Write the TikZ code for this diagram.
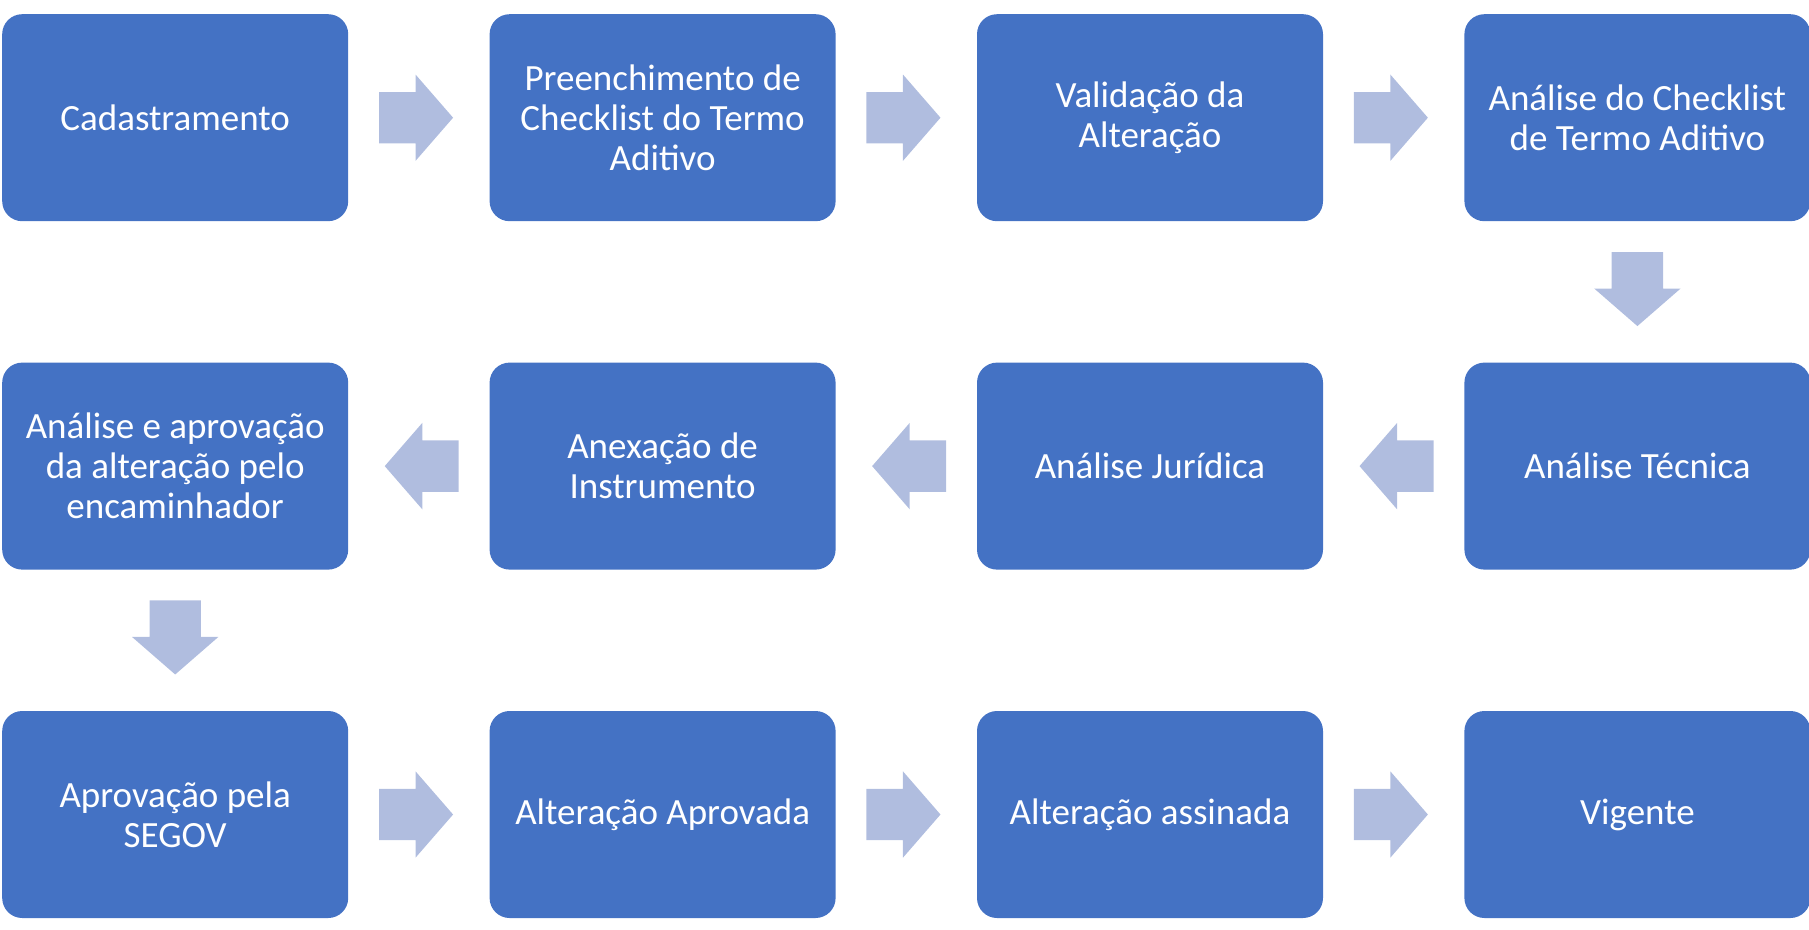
\documentclass[tikz,border=0pt]{standalone}
\usepackage{fontspec}
\setmainfont{Carlito}
\usepackage{xcolor}
\usetikzlibrary{positioning,shapes.arrows,calc}

\definecolor{caixa}{HTML}{4472C4}
\definecolor{setacor}{HTML}{B0BDDF}

\begin{document}
\begin{tikzpicture}[
    node distance=141pt,
    etapa/.style={
        rectangle,
        fill=caixa,
        rounded corners=20pt,
        minimum width=346pt,
        minimum height=207pt,
        inner sep=0pt,
        text=white,
        align=center,
        font=\fontsize{37pt}{40pt}\selectfont
    },
    seta/.style={
        single arrow,
        fill=setacor,
        inner xsep=0pt,
        inner ysep=25.5pt,
        minimum height=74pt,
        single arrow head extend=17.5pt,
        single arrow tip angle=98,
        rotate=#1,
        xshift=-14pt
    },
    seta/.default=0
]

\useasboundingbox (0pt,0pt) rectangle (1809pt,-929pt);

% primeira linha
\node[etapa, anchor=north west] (A) at (2pt,-14pt) {Cadastramento};
\node[etapa] (B) [right=of A] {Preenchimento de\\ Checklist do Termo\\ Aditivo};
\node[etapa] (C) [right=of B] {Validação da\\ Alteração};
\node[etapa] (D) [right=of C] {Análise do Checklist\\ de Termo Aditivo};

% segunda linha
\node[etapa] (E) [below=of D] {Análise Técnica};
\node[etapa] (F) [left=of E] {Análise Jurídica};
\node[etapa] (G) [left=of F] {Anexação de\\ Instrumento};
\node[etapa] (H) [left=of G] {Análise e aprovação\\ da alteração pelo\\ encaminhador};

% terceira linha
\node[etapa] (I) [below=of H] {Aprovação pela\\ SEGOV};
\node[etapa] (J) [right=of I] {Alteração Aprovada};
\node[etapa] (K) [right=of J] {Alteração assinada};
\node[etapa] (L) [right=of K] {Vigente};

% setas
\node[seta] (AB) at ($(A.east)!0.5!(B.west)$) {};
\node[seta] (BC) at ($(B.east)!0.5!(C.west)$) {};
\node[seta] (CD) at ($(C.east)!0.5!(D.west)$) {};
\node[seta=-90] (DE) at ($(D.south)!0.5!(E.north)$) {};
\node[seta=180] (EF) at ($(E.west)!0.5!(F.east)$) {};
\node[seta=180] (FG) at ($(F.west)!0.5!(G.east)$) {};
\node[seta=180] (GH) at ($(G.west)!0.5!(H.east)$) {};
\node[seta=-90] (HI) at ($(H.south)!0.5!(I.north)$) {};
\node[seta] (IJ) at ($(I.east)!0.5!(J.west)$) {};
\node[seta] (JK) at ($(J.east)!0.5!(K.west)$) {};
\node[seta] (KL) at ($(K.east)!0.5!(L.west)$) {};

\end{tikzpicture}
\end{document}
